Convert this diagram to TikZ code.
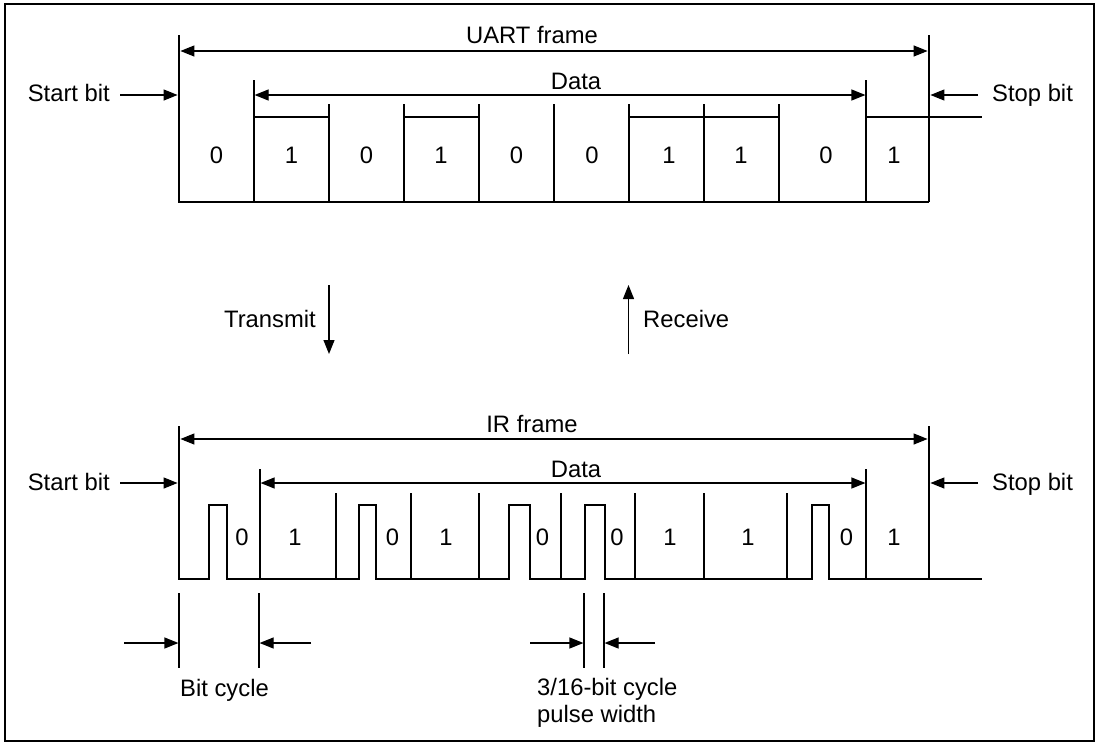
\documentclass[tikz,border=0pt]{standalone}
\usepackage{fontspec}
\setmainfont{Liberation Sans}
\usetikzlibrary{arrows.meta}
\begin{document}
\begin{tikzpicture}[x=1pt,y=-1pt,
  sig/.style={line width=2.8pt, line join=miter},
  thinl/.style={line width=1.2pt},
  dim/.style={line width=1.2pt, -{Triangle[length=14pt,width=11pt]}},
  dimboth/.style={line width=1.2pt, {Triangle[length=14pt,width=11pt]}-{Triangle[length=14pt,width=11pt]}},
  lbl/.style={inner sep=0pt, font=\fontsize{23.8}{27}\selectfont}]
\useasboundingbox (0,0) rectangle (1101,747);
\draw[line width=2.8pt] (5,4) rectangle (1094,741);

% ================= UART =================
\coordinate (uL) at (179,35);
\coordinate (uR) at (929,35);
\coordinate (uDL) at (254,80);
\coordinate (uDR) at (866,80);
% cell bottoms and separators
\draw[thinl] (179,202) -- (929,202);
\draw[thinl] (uDL) -- (254,202);
\draw[thinl] (uDR) -- (866,202);
\foreach \x in {329,404,479,554,629,704,779} \draw[thinl] (\x,104) -- (\x,202);
% signal
\draw[sig] (uL) -- (179,202) -- (254,202) -- (254,117) -- (329,117) -- (329,202)
  -- (404,202) -- (404,117) -- (479,117) -- (479,202) -- (629,202) -- (629,117)
  -- (779,117) -- (779,202) -- (866,202) -- (866,117) -- (982,117);
\draw[sig] (uR) -- (929,202);
% dimension arrows
\draw[dimboth] (180.4,51) -- (927.6,51);
\node[lbl, anchor=base] (uframe) at (532,43) {UART frame};
\draw[dimboth] (254.6,95) -- (865.4,95);
\node[lbl, anchor=base] (udata) at (576,89) {Data};
% start / stop
\node[lbl, anchor=base east] (ustart) at (110,101) {Start bit};
\coordinate (ustartA) at (120,95);
\draw[dim] (ustartA) -- (177.6,95);
\node[lbl, anchor=base west] (ustop) at (992,101) {Stop bit};
\coordinate (ustopA) at (978,95);
\draw[dim] (ustopA) -- (930.4,95);
% bit labels
\foreach \x/\b [count=\i] in {216.5/0,291.5/1,366.5/0,441/1,516.5/0,592/0,669/1,741/1,826/0,894/1}
  \node[lbl, anchor=base] (ub\i) at (\x,163) {\b};

% ================= Transmit / Receive =================
\coordinate (txA) at (329,285);
\coordinate (txB) at (329,354);
\draw[dim] (txA) -- (txB);
\node[lbl, anchor=base east] (tx) at (316,327) {Transmit};
\coordinate (rxA) at (628.5,354);
\coordinate (rxB) at (628.5,285);
\draw[dim] (rxA) -- (rxB);
\node[lbl, anchor=base west] (rx) at (643,327) {Receive};

% ================= IR =================
\coordinate (iL) at (179,426);
\coordinate (iR) at (929,426);
\coordinate (iDL) at (260,469);
\coordinate (iDR) at (866,469);
\draw[thinl] (iDL) -- (260,579);
\draw[thinl] (iDR) -- (866,579);
\foreach \x in {336,411,479,561,635,704,787} \draw[thinl] (\x,493) -- (\x,579);
\draw[sig] (iL) -- (179,579) -- (209,579) -- (209,505) -- (227,505) -- (227,579)
  -- (359,579) -- (359,505) -- (376,505) -- (376,579)
  -- (509,579) -- (509,505) -- (530,505) -- (530,579)
  -- (585,579) -- (585,505) -- (605,505) -- (605,579)
  -- (812,579) -- (812,505) -- (829,505) -- (829,579) -- (982,579);
\draw[sig] (iR) -- (929,579);
\draw[dimboth] (180.4,439) -- (927.6,439);
\node[lbl, anchor=base] (iframe) at (532,432) {IR frame};
\draw[dimboth] (260.6,483) -- (865.4,483);
\node[lbl, anchor=base] (idata) at (576,477) {Data};
\node[lbl, anchor=base east] (istart) at (110,490) {Start bit};
\coordinate (istartA) at (120,483);
\draw[dim] (istartA) -- (177.6,483);
\node[lbl, anchor=base west] (istop) at (992,490) {Stop bit};
\coordinate (istopA) at (978,483);
\draw[dim] (istopA) -- (930.4,483);
\foreach \x/\b [count=\i] in {242/0,295/1,392.5/0,446/1,542.5/0,617/0,670/1,748/1,846.5/0,894/1}
  \node[lbl, anchor=base] (ib\i) at (\x,545) {\b};

% ================= Bottom annotations =================
\coordinate (bcL) at (179,593);
\coordinate (bcR) at (259,593);
\draw[thinl] (bcL) -- (179,668);
\draw[thinl] (bcR) -- (259,668);
\draw[dim] (124,643) -- (178.4,643);
\draw[dim] (311,643) -- (259.6,643);
\node[lbl, anchor=base west] (bitcycle) at (180,696) {Bit cycle};
\coordinate (pwL) at (584,593);
\coordinate (pwR) at (604,593);
\draw[thinl] (pwL) -- (584,668);
\draw[thinl] (pwR) -- (604,668);
\draw[dim] (530,643) -- (583.4,643);
\draw[dim] (655,643) -- (604.6,643);
\node[lbl, anchor=base west] (pw1) at (537,695) {3/16-bit cycle};
\node[lbl, anchor=base west] (pw2) at (537,722) {pulse width};
\end{tikzpicture}
\end{document}
